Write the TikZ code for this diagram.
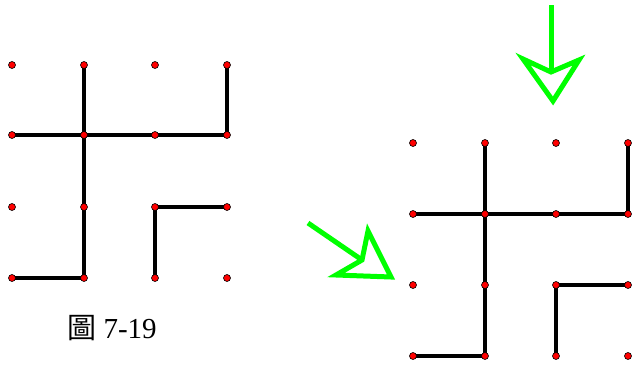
\documentclass[tikz,border=0pt]{standalone}
\usepackage{fontspec}
\setmainfont{Liberation Serif}
\newfontfamily\cjk{Noto Sans CJK TC}
\definecolor{dotred}{RGB}{255,0,0}
\definecolor{arrowgreen}{RGB}{0,255,0}
\begin{document}
\begin{tikzpicture}[x=1pt,y=-1pt,
  seg/.style={line width=4.4pt,black},
  dotnode/.style={circle,fill=dotred,draw=black,line width=0.6pt,inner sep=0pt,minimum size=7pt},
  garrow/.style={draw=arrowgreen,line width=5pt,line join=miter}]
\useasboundingbox (0,0) rectangle (633,367);
% left grid
\foreach \i/\x in {0/12,1/84,2/155,3/227}{
  \foreach \j/\y in {0/65,1/135,2/207,3/278}{
    \coordinate (L\i\j) at (\x,\y);
  }
}
\foreach \i/\x in {0/413,1/485,2/556,3/628}{
  \foreach \j/\y in {0/143,1/214,2/285,3/356}{
    \coordinate (R\i\j) at (\x,\y);
  }
}
\foreach \s in {L,R}{
  \draw[seg] (\s10) -- (\s13);
  \draw[seg] (\s01) -- (\s31);
  \draw[seg,line cap=rect] (\s30) -- (\s31);
  \draw[seg,line cap=rect] (\s03) -- (\s13);
  \draw[seg,line join=miter] (\s23) -- (\s22) -- (\s32);
}
\foreach \s in {L,R}{
  \foreach \i in {0,1,2,3}{
    \foreach \j in {0,1,2,3}{
      \node[dotnode] (d\s\i\j) at (\s\i\j) {};
    }
  }
}
% arrows
\coordinate (a1s) at (551,5);
\coordinate (a1n) at (551,72);
\coordinate (a1l) at (523,59);
\coordinate (a1t) at (553,101);
\coordinate (a1r) at (579,60);
\draw[garrow] (a1s) -- (a1n);
\draw[garrow] (a1n) -- (a1l) -- (a1t) -- (a1r) -- cycle;
\coordinate (a2s) at (308,223);
\coordinate (a2n) at (362,260);
\coordinate (a2u) at (368,231);
\coordinate (a2t) at (391,277);
\coordinate (a2b) at (336,275);
\draw[garrow] (a2s) -- (a2n);
\draw[garrow] (a2n) -- (a2u) -- (a2t) -- (a2b) -- cycle;
\node[font=\fontsize{29}{32}\selectfont] (cap) at (112,328) {{\cjk 圖} 7-19};
\end{tikzpicture}
\end{document}
